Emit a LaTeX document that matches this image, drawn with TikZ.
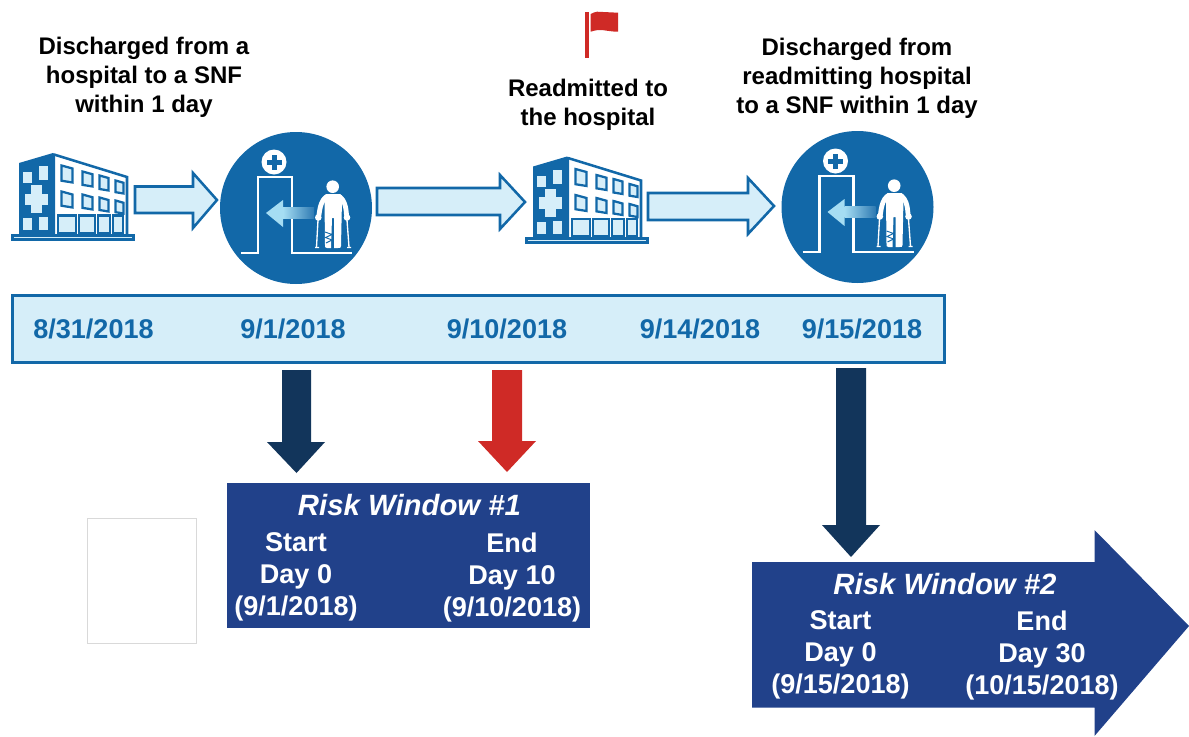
\documentclass[tikz,border=0pt]{standalone}
\usepackage{fontspec}
\setmainfont{Liberation Sans}
\definecolor{cblue}{HTML}{1268A8}
\definecolor{lblue}{HTML}{D6EEF9}
\definecolor{navy}{HTML}{12355B}
\definecolor{rred}{HTML}{CF2A26}
\definecolor{boxb}{HTML}{21418A}
\definecolor{cgrad}{HTML}{A5DDF3}
\newcommand{\winshape}[4]{\draw[cblue,line width=1.7pt,fill=lblue,line join=miter] (#1+0.5,#2+0.5) -- (#1+#3-0.5,#2+0.5+0.25*#3) -- (#1+#3-0.5,#2+#4-0.5) -- (#1+0.5,#2+#4-0.5-0.15*#3) -- cycle;}
\tikzset{
 x=0.75pt,y=-0.75pt,
 lab/.style={font=\fontsize{18}{21.8}\selectfont\bfseries,align=center,text=black,inner sep=0pt},
 datelab/.style={font=\fontsize{20.3}{24}\selectfont\bfseries,text=cblue,inner sep=0pt},
 wintitle/.style={font=\fontsize{22}{26}\selectfont\bfseries\itshape,text=white,inner sep=0pt},
 winlab/.style={font=\fontsize{20.3}{24}\selectfont\bfseries,align=center,text=white,inner sep=0pt},
 flow/.style={draw=cblue,line width=1.9pt,fill=lblue,line join=miter},
 hospital/.pic={
  % base
  \fill[cblue] (11,233.5) rectangle (135,240.5);
  \fill[lblue] (14,236.5) rectangle (132,237.5);
  % dark wing
  \fill[cblue] (19,163) -- (53,153) -- (55,154) -- (55,234) -- (19,234) -- cycle;
  % white wing outline
  \draw[cblue,line width=1.9pt,line join=miter] (54,154.5) -- (127,177) -- (127,234);
  % dark wing windows
  \foreach \xa/\ya/\yb in {23/172/183,39/166/180,23/218/230,39/217/230}
   \fill[lblue] (\xa,\ya) rectangle (\xa+9,\yb);
  % cross
  \fill[lblue] (25,193.5) rectangle (48,205);
  \fill[lblue] (31,185) rectangle (42,213);
  % windows
  \winshape{61}{165}{12}{18}
  \winshape{82}{171}{11}{16}
  \winshape{99}{175}{10}{16}
  \winshape{115}{180}{9}{14}
  \winshape{61}{191}{12}{17}
  \winshape{82}{194}{11}{16}
  \winshape{99}{197}{10}{15}
  \winshape{115}{200}{9}{14}
  % doors
  \foreach \xa/\w in {57/20,78/18,97/14,112/12}
   \draw[cblue,line width=1.7pt,fill=lblue] (\xa+1,215.5) rectangle (\xa+\w-1,233);
 },
 snf/.pic={
  \fill[cblue] (0,0) circle (76);
  \draw[white,line width=2pt,line join=miter] (-55,45) -- (-38,45) -- (-38,-31) -- (-4,-31) -- (-4,45) -- (56,45);
  \fill[white] (-22,-46) circle (12.5);
  \fill[cblue] (-24.5,-53.5) rectangle (-19.5,-38.5);
  \fill[cblue] (-29.5,-48.5) rectangle (-14.5,-43.5);
  \shade[left color=cgrad,right color=cblue!88!white] (-13,-0.7) rectangle (18,10);
  \fill[cgrad] (-30,5) -- (-13,-8) -- (-13,19) -- cycle;
  % person
  \fill[white] (36.7,-21.3) circle (6.3);
  \fill[white] (30,-14) -- (44,-14) .. controls (46,-14) and (46,-12) .. (46,-8) -- (45,38)
    .. controls (45,40) and (44,40) .. (42,40) -- (38,40) -- (38,10) -- (36,10) -- (35,40)
    -- (31,40) .. controls (29,40) and (29,39) .. (29,37) -- (28.5,-8) .. controls (28.5,-12) and (28,-14) .. (30,-14) -- cycle;
  \draw[white,line width=3.6pt,line cap=round] (30,-11) .. controls (26,-8) and (24,-2) .. (23,7);
  \draw[white,line width=3.6pt,line cap=round] (44,-11) .. controls (48,-8) and (50,-2) .. (50.5,7);
  \fill[white] (22.3,9.5) circle (3.3);
  \fill[white] (51,9.5) circle (3.3);
  \draw[cblue,line width=.7pt] (29,24) -- (36,26.5) -- (29.5,29.5) -- (36,32) -- (30,35);
  \draw[white,line width=1pt] (22,12) -- (20.5,39) (19,39.5) -- (23,39.5);
  \draw[white,line width=1pt] (51,12) -- (53,39) (51,39.5) -- (55,39.5);
 },
}
\begin{document}
\begin{tikzpicture}
\useasboundingbox (0,0) rectangle (1189,736);
% top labels
\node[lab] (t1) at (144,77.5) {Discharged from a\\hospital to a SNF\\within 1 day};
\node[lab] (t2) at (588,105) {Readmitted to\\the hospital};
\node[lab] (t3) at (857,78.5) {Discharged from\\readmitting hospital\\to a SNF within 1 day};
% flag
\fill[rred] (585,11.7) rectangle (589,57.5);
\fill[rred] (590.7,14) .. controls (593,13) and (595,11.7) .. (597,11.7) -- (618,12.7) -- (618,31.7) .. controls (610,31.7) and (605,30) .. (600,30) .. controls (596,30) and (593,31) .. (590.7,31.7) -- cycle;
% hospitals
\pic {hospital};
\begin{scope}[shift={(514,3.5)}]
\pic {hospital};
\end{scope}
% SNF
\begin{scope}[shift={(296,208)}]
\pic {snf};
\end{scope}
\begin{scope}[shift={(857.5,207)}]
\pic {snf};
\end{scope}
% flow arrows
\draw[flow] (135,186.5) -- (193,186.5) -- (193,173) -- (217,200) -- (193,228) -- (193,213) -- (135,213) -- cycle;
\draw[flow] (377,188) -- (500,188) -- (500,175) -- (525,202) -- (500,229) -- (500,215) -- (377,215) -- cycle;
\draw[flow] (648,193) -- (748,193) -- (748,178) -- (774,206) -- (748,234) -- (748,220) -- (648,220) -- cycle;
% date strip
\node[draw=cblue,line width=1.9pt,fill=lblue,minimum width=932*0.75pt,minimum height=67*0.75pt,inner sep=0pt] (strip) at (478.5,329) {};
\node[datelab] (d1) at (93.5,329) {8/31/2018};
\node[datelab] (d2) at (293,329) {9/1/2018};
\node[datelab] (d3) at (507,329) {9/10/2018};
\node[datelab] (d4) at (700,329) {9/14/2018};
\node[datelab] (d5) at (862,329) {9/15/2018};
% down arrows
\fill[navy] (282,370) -- (311,370) -- (311,442) -- (325,442) -- (296.5,473) -- (267,442) -- (282,442) -- cycle;
\fill[rred] (492,370) -- (522,370) -- (522,441) -- (536,441) -- (507,472) -- (478,441) -- (492,441) -- cycle;
\fill[navy] (836,368) -- (866,368) -- (866,525) -- (880,525) -- (851,557) -- (822,525) -- (836,525) -- cycle;
% empty box
\node[draw=black!15,fill=white,line width=.6pt,minimum width=109.5*0.75pt,minimum height=125.5*0.75pt,inner sep=0pt] (empty) at (142,581) {};
% window 1
\node[fill=boxb,minimum width=363*0.75pt,minimum height=145*0.75pt,inner sep=0pt] (w1) at (408.5,555.5) {};
\node[wintitle] (w1t) at (409.5,505) {Risk Window \#1};
\node[winlab] (w1a) at (296,577) {Start\\Day 0\\(9/1/2018)};
\node[winlab] (w1b) at (512,577) {End\\Day 10\\(9/10/2018)};
% window 2
\fill[boxb] (752,562) -- (1094.5,562) -- (1094.5,530) -- (1189,626) -- (1094.5,736) -- (1094.5,707.5) -- (752,707.5) -- cycle;
\node[wintitle] (w2t) at (945,584) {Risk Window \#2};
\node[winlab] (w2a) at (840.5,655) {Start\\Day 0\\(9/15/2018)};
\node[winlab] (w2b) at (1042,655) {End\\Day 30\\(10/15/2018)};
\end{tikzpicture}
\end{document}
